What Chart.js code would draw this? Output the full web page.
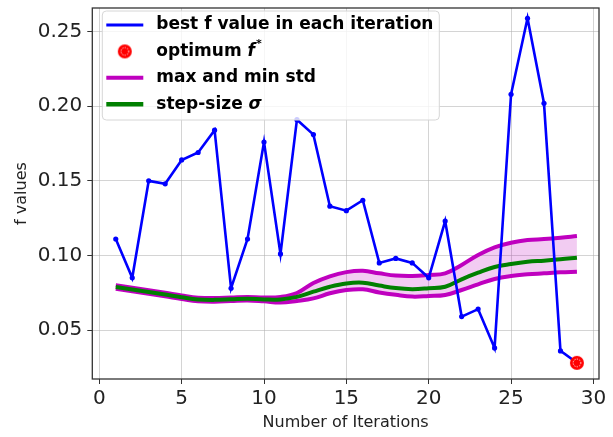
<!DOCTYPE html>
<html>
<head>
<meta charset="utf-8">
<script src="https://cdn.jsdelivr.net/npm/chart.js@4.4.0/dist/chart.umd.min.js"></script>
<style>
    html, body { margin: 0; padding: 0; background: #fff; }
    canvas { display: block; }
</style>
</head>
<body>
<canvas id="chart" width="613" height="437"></canvas>
<script>
// Iteration numbers and the values tracked per iteration
const iterations = [1, 2, 3, 4, 5, 6, 7, 8, 9, 10, 11, 12, 13, 14, 15, 16, 17, 18, 19, 20, 21, 22, 23, 24, 25, 26, 27, 28, 29];
const bestF = [0.111, 0.085, 0.150, 0.148, 0.164, 0.169, 0.184, 0.078, 0.111, 0.176, 0.101, 0.191, 0.181, 0.133, 0.130,
               0.137, 0.095, 0.098, 0.095, 0.085, 0.123, 0.059, 0.064, 0.038, 0.208, 0.259, 0.202, 0.036, 0.028];
const stepSize = [0.0788, 0.0772, 0.0755, 0.0738, 0.0720, 0.0705, 0.0702, 0.0706, 0.0710, 0.0705, 0.0705, 0.0722, 0.0757, 0.0790, 0.0812,
                  0.0817, 0.0798, 0.0781, 0.0774, 0.0780, 0.0790, 0.0840, 0.0884, 0.0922, 0.0942, 0.0957, 0.0965, 0.0974, 0.0985];
const stdMax = [0.0800, 0.0784, 0.0767, 0.0750, 0.0732, 0.0717, 0.0714, 0.0718, 0.0722, 0.0718, 0.0722, 0.0748, 0.0815, 0.0860, 0.0888,
                0.0897, 0.0880, 0.0865, 0.0862, 0.0869, 0.0880, 0.0936, 0.1003, 0.1054, 0.1085, 0.1103, 0.1110, 0.1119, 0.1130];
const stdMin = [0.0776, 0.0760, 0.0743, 0.0726, 0.0708, 0.0693, 0.0690, 0.0694, 0.0698, 0.0692, 0.0684, 0.0695, 0.0712, 0.0746, 0.0768,
                0.0773, 0.0752, 0.0736, 0.0724, 0.0728, 0.0735, 0.0768, 0.0806, 0.0842, 0.0862, 0.0873, 0.0880, 0.0887, 0.0891];
const optimumIter = [29];
const optimumValue = [0.028];

const xTicks = [0, 5, 10, 15, 20, 25, 30];
const yTicks = [0.05, 0.10, 0.15, 0.20, 0.25];

const FONT = "'DejaVu Sans', sans-serif";
// pixel spots the end ticks should sit on
const TICK_PX = { x0: 99.3, x30: 593.4, y25: 31.7, y05: 330 };
const toPoints = (xs, ys) => xs.map((x, i) => ({ x, y: ys[i] }));

// red disc with a dotted white ring, used for the optimum point
function optimumMarker(r) {
    const c = document.createElement('canvas');
    const size = Math.ceil(r * 2 + 2);
    c.width = c.height = size;
    const g = c.getContext('2d');
    const m = size / 2;
    g.fillStyle = '#ff0000';
    g.beginPath(); g.arc(m, m, r, 0, Math.PI * 2); g.fill();
    g.strokeStyle = 'rgba(255,255,255,0.9)';
    g.lineWidth = 1;
    g.setLineDash([1.2, 1.3]);
    g.beginPath(); g.arc(m, m, r * 0.55, 0, Math.PI * 2); g.stroke();
    return c;
}
const optMarker = optimumMarker(7);

// frame around the plot area
const frame = {
    id: 'frame',
    afterDatasetsDraw(chart) {
        const { ctx, chartArea: a } = chart;
        ctx.save();
        ctx.strokeStyle = '#333';
        ctx.lineWidth = 1.3;
        ctx.strokeRect(a.left, a.top, a.right - a.left, a.bottom - a.top);
        ctx.restore();
    }
};

// legend box in the upper-left corner of the plot
const legendBox = {
    id: 'legendBox',
    afterDraw(chart) {
        const { ctx } = chart;
        const x0 = 102.3, y0 = 11, w = 337, h = 109;
        ctx.save();
        ctx.beginPath();
        ctx.roundRect(x0, y0, w, h, 4);
        ctx.fillStyle = 'rgba(255,255,255,0.8)';
        ctx.fill();
        ctx.strokeStyle = '#d6d6d6';
        ctx.lineWidth = 1;
        ctx.stroke();

        const rows = [
            { kind: 'line', color: '#0000ff', width: 3, parts: [{ t: 'best f value in each iteration' }] },
            { kind: 'marker', parts: [{ t: 'optimum ' }, { t: 'f', it: true }, { t: '*', sup: true }] },
            { kind: 'line', color: '#bf00bf', width: 4, parts: [{ t: 'max and min std' }] },
            { kind: 'line', color: '#008000', width: 4.5, parts: [{ t: 'step-size ' }, { t: 'σ', it: true }] }
        ];
        const hx1 = x0 + 4, hx2 = x0 + 41, tx = x0 + 54;
        rows.forEach((row, i) => {
            const y = y0 + 14 + i * 26.4;
            if (row.kind === 'line') {
                ctx.strokeStyle = row.color;
                ctx.lineWidth = row.width;
                ctx.beginPath(); ctx.moveTo(hx1, y); ctx.lineTo(hx2, y); ctx.stroke();
            } else {
                ctx.drawImage(optMarker, (hx1 + hx2) / 2 - optMarker.width / 2, y - optMarker.height / 2);
            }
            ctx.fillStyle = '#000';
            ctx.textBaseline = 'middle';
            let x = tx;
            row.parts.forEach(p => {
                if (p.sup) {
                    ctx.font = 'bold 11px ' + FONT;
                    ctx.fillText(p.t, x + 1, y - 7);
                    x += ctx.measureText(p.t).width + 1;
                } else {
                    ctx.font = (p.it ? 'italic bold ' : 'bold ') + '17px ' + FONT;
                    ctx.fillText(p.t, x, y);
                    x += ctx.measureText(p.t).width;
                }
            });
        });
        ctx.restore();
    }
};

// no extra room reserved for the edge tick labels
function noEdgePadding(s) {
    s.paddingTop = 0;
    s.paddingBottom = 0;
    s.paddingLeft = 0;
    s.paddingRight = 0;
}

const chart = new Chart(document.getElementById('chart'), {
    type: 'line',
    data: {
        datasets: [
            {
                label: 'best f value in each iteration',
                data: toPoints(iterations, bestF),
                borderColor: '#0000ff',
                backgroundColor: '#0000ff',
                borderWidth: 2.6,
                pointRadius: 2.6,
                pointBorderWidth: 0,
                tension: 0,
                fill: false,
                order: 1
            },
            {
                label: 'optimum f*',
                data: toPoints(optimumIter, optimumValue),
                showLine: false,
                pointStyle: optMarker,
                pointRadius: 7,
                fill: false,
                order: 0
            },
            {
                label: 'max and min std',
                data: toPoints(iterations, stdMax),
                borderColor: '#bf00bf',
                backgroundColor: 'rgba(191, 0, 191, 0.2)',
                borderWidth: 4,
                pointRadius: 0,
                tension: 0.4,
                fill: '+1',
                order: 3
            },
            {
                label: 'min std',
                data: toPoints(iterations, stdMin),
                borderColor: '#bf00bf',
                borderWidth: 4,
                pointRadius: 0,
                tension: 0.4,
                fill: false,
                order: 4
            },
            {
                label: 'step-size σ',
                data: toPoints(iterations, stepSize),
                borderColor: '#008000',
                borderWidth: 4,
                pointRadius: 0,
                tension: 0.4,
                fill: false,
                order: 2
            }
        ]
    },
    options: {
        responsive: false,
        animation: false,
        devicePixelRatio: 1,
        layout: { padding: { left: 0, right: 14, top: 2, bottom: 0 } },
        scales: {
            x: {
                type: 'linear',
                min: -0.4,
                max: 30.4,
                afterFit: s => { s.height = 58; noEdgePadding(s); },
                afterBuildTicks: s => { s.ticks = xTicks.map(v => ({ value: v })); },
                grid: { color: 'rgba(176,176,176,0.55)', lineWidth: 1, tickLength: 5, tickColor: '#333' },
                border: { display: false },
                ticks: { font: { family: FONT, size: 20 }, color: '#222', padding: 3, maxRotation: 0,
                         callback: v => String(v) },
                title: { display: true, text: 'Number of Iterations', font: { family: FONT, size: 16 },
                         color: '#222', padding: { top: 0, bottom: 5 } }
            },
            y: {
                type: 'linear',
                min: 0.017,
                max: 0.2699,
                afterFit: s => { s.width = 92.3; noEdgePadding(s); },
                afterBuildTicks: s => { s.ticks = yTicks.map(v => ({ value: v })); },
                grid: { color: 'rgba(176,176,176,0.55)', lineWidth: 1, tickLength: 5, tickColor: '#333' },
                border: { display: false },
                ticks: { font: { family: FONT, size: 20 }, color: '#222', padding: 5,
                         callback: v => v.toFixed(2) },
                title: { display: true, text: 'f values', font: { family: FONT, size: 16 },
                         color: '#222', padding: { top: 12, bottom: 0 } }
            }
        },
        plugins: {
            legend: { display: false },
            tooltip: { enabled: false },
            filler: { drawTime: 'beforeDatasetsDraw' }
        }
    },
    plugins: [frame, legendBox]
});

// fit the axis limits to the final plot area so the end ticks land on TICK_PX
const a = chart.chartArea;
const kx = (TICK_PX.x30 - TICK_PX.x0) / 30;
const ky = (TICK_PX.y05 - TICK_PX.y25) / 0.2;
chart.options.scales.x.min = -(TICK_PX.x0 - a.left) / kx;
chart.options.scales.x.max = 30 + (a.right - TICK_PX.x30) / kx;
chart.options.scales.y.min = 0.05 - (a.bottom - TICK_PX.y05) / ky;
chart.options.scales.y.max = 0.25 + (TICK_PX.y25 - a.top) / ky;
chart.update();
</script>
</body>
</html>
